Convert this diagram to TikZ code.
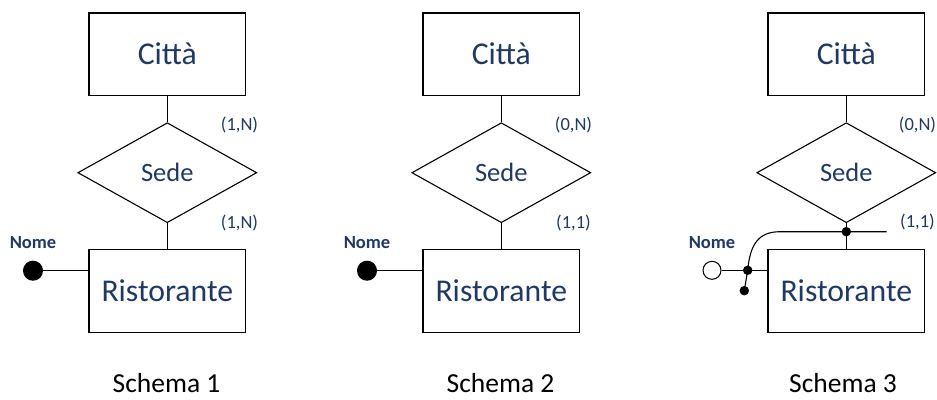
\documentclass[tikz,border=0pt]{standalone}
\usepackage{fontspec}
\setmainfont{Carlito}
\usetikzlibrary{shapes.geometric}
\definecolor{navy}{RGB}{32,56,100}
\tikzset{
  ent/.style={draw, line width=1.1pt, minimum width=156.7pt, minimum height=82.5pt, inner sep=0pt, text=navy, font=\fontsize{31.7}{31.7}\selectfont},
  rel/.style={draw, diamond, line width=1.1pt, minimum width=179pt, minimum height=100pt, inner sep=0pt, text=navy, font=\fontsize{26.5}{26.5}\selectfont},
  card/.style={text=navy, font=\fontsize{18.5}{18.5}\selectfont, inner sep=0pt},
  attrlab/.style={text=navy, font=\bfseries\fontsize{18.5}{18.5}\selectfont, inner sep=0pt},
  captionlab/.style={text=black, font=\fontsize{27.5}{27.5}\selectfont, inner sep=0pt},
  fulldot/.style={circle, fill=black, draw=black, line width=1pt, minimum size=19pt, inner sep=0pt},
  emptydot/.style={circle, fill=white, draw=black, line width=1pt, minimum size=18pt, inner sep=0pt},
  smalldot/.style={circle, fill=black, minimum size=9.5pt, inner sep=0pt},
  conn/.style={line width=1.1pt}
}
\begin{document}
\begin{tikzpicture}[x=1pt,y=-1pt]
\useasboundingbox (0,0) rectangle (937,399);
% Schema 1
\node[ent] (c1) at (167.3,54.2) {Città};
\node[rel] (s1) at (167.3,172.7) {Sede};
\node[ent] (r1) at (167.3,291) {Ristorante};
\draw[conn] (c1) -- (s1);
\draw[conn] (s1) -- (r1);
\node[card] (k1a) at (239.5,125) {(1,N)};
\node[card] (k1b) at (239.5,223) {(1,N)};
\node[fulldot] (a1) at (33,270.7) {};
\draw[conn] (a1) -- (r1.west |- a1);
\node[attrlab] (n1) at (33,243) {Nome};
\node[captionlab] (t1) at (166.5,383.5) {Schema 1};
% Schema 2
\node[ent] (c2) at (501.3,54.2) {Città};
\node[rel] (s2) at (501.3,172.7) {Sede};
\node[ent] (r2) at (501.3,291) {Ristorante};
\draw[conn] (c2) -- (s2);
\draw[conn] (s2) -- (r2);
\node[card] (k2a) at (573.5,125) {(0,N)};
\node[card] (k2b) at (573.5,223) {(1,1)};
\node[fulldot] (a2) at (367,270.7) {};
\draw[conn] (a2) -- (r2.west |- a2);
\node[attrlab] (n2) at (367,243) {Nome};
\node[captionlab] (t2) at (500.5,383.5) {Schema 2};
% Schema 3
\node[ent] (c3) at (846.3,54.2) {Città};
\node[rel] (s3) at (846.3,172.7) {Sede};
\node[ent] (r3) at (846.3,291) {Ristorante};
\draw[conn] (c3) -- (s3);
\draw[conn] (s3) -- (r3);
\node[card] (k3a) at (917.5,125) {(0,N)};
\node[card] (k3b) at (917.5,222) {(1,1)};
\node[emptydot] (a3) at (712,270.3) {};
\node[attrlab] (n3) at (712,243) {Nome};
\node[captionlab] (t3) at (843,383.5) {Schema 3};
\coordinate (h0) at (780,231.7);
\coordinate (h1) at (886.7,231.7);
\node[smalldot] (d1) at (846.3,231.7) {};
\node[smalldot] (d2) at (747.7,270.3) {};
\node[smalldot] (d3) at (744.3,290.7) {};
\draw[conn] (a3) -- (r3.west |- a3);
\draw[conn] (h1) -- (h0) .. controls (758,231.7) and (750,245) .. (d2.center);
\draw[conn] (d2.center) -- (d3.center);
\end{tikzpicture}
\end{document}
